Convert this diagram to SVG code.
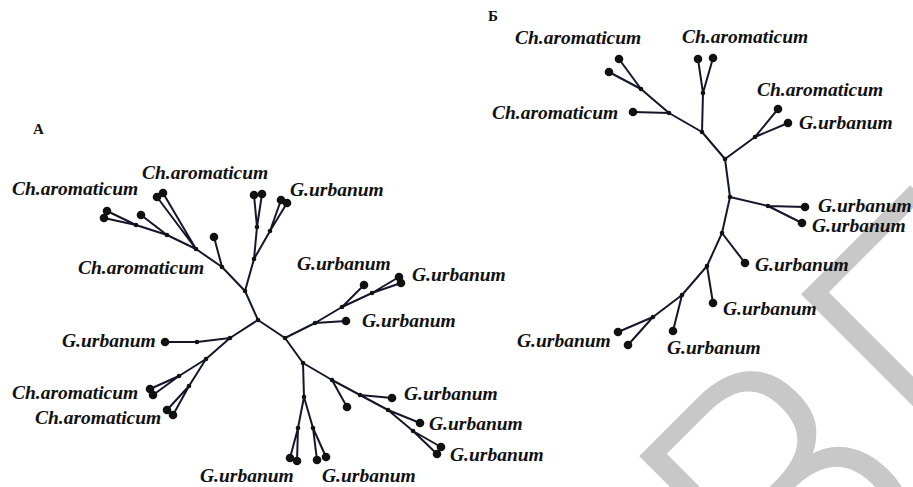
<svg xmlns="http://www.w3.org/2000/svg" width="913" height="487" viewBox="0 0 913 487">
<style>
.lbl{font-family:"Liberation Serif","Times New Roman",serif;font-style:italic;font-weight:bold;font-size:19.5px;fill:#111}
.hdr{font-family:"Liberation Serif","Times New Roman",serif;font-weight:bold;font-size:15px;fill:#111}
.e{stroke:#16162a;stroke-width:2;fill:none;stroke-linecap:round}
.leaf{fill:#111}
.int{fill:#111}
.wm{font-family:"DejaVu Sans",sans-serif;font-weight:200;font-size:350px;fill:#c8c8c8;stroke:#c8c8c8;stroke-width:4;stroke-linejoin:miter}
</style>
<rect width="913" height="487" fill="#fff"/>
<g id="watermark"><text class="wm" transform="translate(792,667) rotate(-45)">ВГУ</text></g>
<text class="hdr" x="33" y="134">A</text>
<text class="hdr" x="488" y="21">Б</text>
<g id="connectors">
<path class="e" d="M107,211L136,225M104,218L136,225M136,225L167,235M141,215L167,235M167,235L196,249M157,197L196,249M163,193L196,249M196,249L222,267M214,237L222,267M222,267L245,291M245,291L254,259M254,259L257,227M257,227L254,195M257,227L262,194M254,259L270,231M270,231L281,200M270,231L287,203M245,291L258,320"/>
<path class="e" d="M258,320L230,338M230,338L197,342L165,342M230,338L206,359M206,359L179,376M179,376L150,389M179,376L153,395M206,359L189,386M189,386L167,410M189,386L173,415"/>
<path class="e" d="M258,320L285,338M285,338L315,323M315,323L346,321M315,323L342,307M342,307L364,285M342,307L372,293M372,293L399,277M372,293L401,283"/>
<path class="e" d="M285,338L303,363M303,363L332,380M332,380L347,407M332,380L360,395M360,395L392,398M360,395L388,410M388,410L420,423M388,410L413,431M413,431L441,447M413,431L437,454M303,363L304,397M304,397L298,428M298,428L290,458M298,428L297,461M304,397L313,428M313,428L317,460M313,428L326,457"/>
<path class="e" d="M619,59L641,89M609,72L641,89M641,89L669,113M633,112L669,113M669,113L702,132M698,59L703,93M713,58L703,93M703,93L702,132M702,132L725,159M725,159L755,137M755,137L778,109M755,137L788,123M725,159L730,197M730,197L768,206M768,206L805,207M768,206L802,223M730,197L722,233M722,233L745,263M722,233L707,266M707,266L713,303M707,266L682,295M682,295L673,331M682,295L653,317M653,317L618,332M653,317L628,345"/>
</g>
<g id="nodesA">
<g id="a1"><circle class="int" cx="136" cy="225" r="2.3"/></g>
<g id="a2"><circle class="int" cx="167" cy="235" r="2.3"/></g>
<g id="a3"><circle class="int" cx="196" cy="249" r="2.3"/></g>
<g id="a4"><circle class="int" cx="222" cy="267" r="2.3"/></g>
<g id="a5"><circle class="int" cx="245" cy="291" r="2.3"/></g>
<g id="a6"><circle class="int" cx="257" cy="227" r="2.3"/></g>
<g id="a7"><circle class="int" cx="270" cy="231" r="2.3"/></g>
<g id="a8"><circle class="int" cx="254" cy="259" r="2.3"/></g>
<g id="rootA"><circle class="int" cx="258" cy="320" r="2.3"/></g>
<g id="b1"><circle class="int" cx="285" cy="338" r="2.3"/></g>
<g id="b2"><circle class="int" cx="315" cy="323" r="2.3"/></g>
<g id="b3"><circle class="int" cx="342" cy="307" r="2.3"/></g>
<g id="b4"><circle class="int" cx="372" cy="293" r="2.3"/></g>
<g id="c1"><circle class="int" cx="303" cy="363" r="2.3"/></g>
<g id="c2"><circle class="int" cx="332" cy="380" r="2.3"/></g>
<g id="c3"><circle class="int" cx="360" cy="395" r="2.3"/></g>
<g id="c4"><circle class="int" cx="388" cy="410" r="2.3"/></g>
<g id="c5"><circle class="int" cx="413" cy="431" r="2.3"/></g>
<g id="d1"><circle class="int" cx="304" cy="397" r="2.3"/></g>
<g id="d2"><circle class="int" cx="298" cy="428" r="2.3"/></g>
<g id="d3"><circle class="int" cx="313" cy="428" r="2.3"/></g>
<g id="e1"><circle class="int" cx="230" cy="338" r="2.3"/></g>
<g id="e2"><circle class="int" cx="197" cy="342" r="2.3"/></g>
<g id="e3"><circle class="int" cx="206" cy="359" r="2.3"/></g>
<g id="e4"><circle class="int" cx="179" cy="376" r="2.3"/></g>
<g id="e5"><circle class="int" cx="189" cy="386" r="2.3"/></g>
<g id="leavesA">
<circle class="leaf" cx="107" cy="211" r="4.3"/><circle class="leaf" cx="104" cy="218" r="4.3"/>
<circle class="leaf" cx="141" cy="215" r="4.3"/><circle class="leaf" cx="157" cy="197" r="4.3"/>
<circle class="leaf" cx="163" cy="193" r="4.3"/><circle class="leaf" cx="214" cy="237" r="4.3"/>
<circle class="leaf" cx="254" cy="195" r="4.3"/><circle class="leaf" cx="262" cy="194" r="4.3"/>
<circle class="leaf" cx="281" cy="200" r="4.3"/><circle class="leaf" cx="287" cy="203" r="4.3"/>
<circle class="leaf" cx="165" cy="342" r="4.3"/><circle class="leaf" cx="150" cy="389" r="4.3"/>
<circle class="leaf" cx="153" cy="395" r="4.3"/><circle class="leaf" cx="167" cy="410" r="4.3"/>
<circle class="leaf" cx="173" cy="415" r="4.3"/><circle class="leaf" cx="346" cy="321" r="4.3"/>
<circle class="leaf" cx="364" cy="285" r="4.3"/><circle class="leaf" cx="399" cy="277" r="4.3"/>
<circle class="leaf" cx="401" cy="283" r="4.3"/><circle class="leaf" cx="347" cy="407" r="4.3"/>
<circle class="leaf" cx="392" cy="398" r="4.3"/><circle class="leaf" cx="420" cy="423" r="4.3"/>
<circle class="leaf" cx="441" cy="447" r="4.3"/><circle class="leaf" cx="437" cy="454" r="4.3"/>
<circle class="leaf" cx="290" cy="458" r="4.3"/><circle class="leaf" cx="297" cy="461" r="4.3"/>
<circle class="leaf" cx="317" cy="460" r="4.3"/><circle class="leaf" cx="326" cy="457" r="4.3"/>
</g>
</g>
<g id="nodesB">
<g id="p1"><circle class="int" cx="641" cy="89" r="2.3"/></g>
<g id="p2"><circle class="int" cx="669" cy="113" r="2.3"/></g>
<g id="p3"><circle class="int" cx="703" cy="93" r="2.3"/></g>
<g id="p4"><circle class="int" cx="702" cy="132" r="2.3"/></g>
<g id="p5"><circle class="int" cx="725" cy="159" r="2.3"/></g>
<g id="p6"><circle class="int" cx="755" cy="137" r="2.3"/></g>
<g id="p7"><circle class="int" cx="730" cy="197" r="2.3"/></g>
<g id="p8"><circle class="int" cx="768" cy="206" r="2.3"/></g>
<g id="p9"><circle class="int" cx="722" cy="233" r="2.3"/></g>
<g id="p10"><circle class="int" cx="707" cy="266" r="2.3"/></g>
<g id="p11"><circle class="int" cx="682" cy="295" r="2.3"/></g>
<g id="p12"><circle class="int" cx="653" cy="317" r="2.3"/></g>
<g id="leavesB">
<circle class="leaf" cx="619" cy="59" r="4.3"/><circle class="leaf" cx="609" cy="72" r="4.3"/>
<circle class="leaf" cx="633" cy="112" r="4.3"/><circle class="leaf" cx="698" cy="59" r="4.3"/>
<circle class="leaf" cx="713" cy="58" r="4.3"/><circle class="leaf" cx="778" cy="109" r="4.3"/>
<circle class="leaf" cx="788" cy="123" r="4.3"/><circle class="leaf" cx="805" cy="207" r="4.3"/>
<circle class="leaf" cx="802" cy="223" r="4.3"/><circle class="leaf" cx="745" cy="263" r="4.3"/>
<circle class="leaf" cx="713" cy="303" r="4.3"/><circle class="leaf" cx="673" cy="331" r="4.3"/>
<circle class="leaf" cx="618" cy="332" r="4.3"/><circle class="leaf" cx="628" cy="345" r="4.3"/>
</g>
</g>
<g id="labelsA">
<text class="lbl" x="12" y="195">Ch.aromaticum</text>
<text class="lbl" x="142" y="179">Ch.aromaticum</text>
<text class="lbl" x="78" y="274">Ch.aromaticum</text>
<text class="lbl" x="290" y="196">G.urbanum</text>
<text class="lbl" x="297" y="270">G.urbanum</text>
<text class="lbl" x="412" y="281">G.urbanum</text>
<text class="lbl" x="362" y="327">G.urbanum</text>
<text class="lbl" x="62" y="347">G.urbanum</text>
<text class="lbl" x="12" y="399">Ch.aromaticum</text>
<text class="lbl" x="35" y="424">Ch.aromaticum</text>
<text class="lbl" x="404" y="400">G.urbanum</text>
<text class="lbl" x="429" y="430">G.urbanum</text>
<text class="lbl" x="450" y="461">G.urbanum</text>
<text class="lbl" x="200" y="482">G.urbanum</text>
<text class="lbl" x="322" y="482">G.urbanum</text>
</g>
<g id="labelsB">
<text class="lbl" x="515" y="44">Ch.aromaticum</text>
<text class="lbl" x="682" y="43">Ch.aromaticum</text>
<text class="lbl" x="492" y="119">Ch.aromaticum</text>
<text class="lbl" x="757" y="96">Ch.aromaticum</text>
<text class="lbl" x="799" y="129">G.urbanum</text>
<text class="lbl" x="818" y="212">G.urbanum</text>
<text class="lbl" x="812" y="232">G.urbanum</text>
<text class="lbl" x="755" y="271">G.urbanum</text>
<text class="lbl" x="723" y="315">G.urbanum</text>
<text class="lbl" x="667" y="354">G.urbanum</text>
<text class="lbl" x="517" y="347">G.urbanum</text>
</g>
</svg>
